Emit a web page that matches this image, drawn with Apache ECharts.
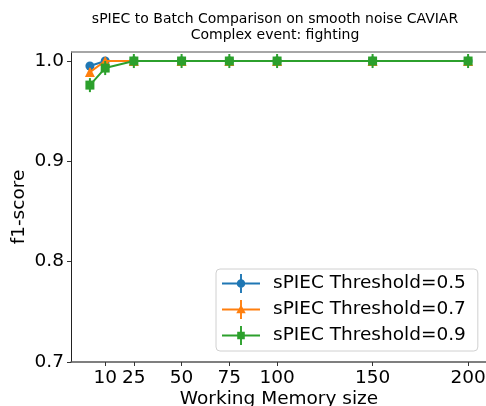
<!DOCTYPE html>
<html><head><meta charset="utf-8">
<script src="https://cdn.jsdelivr.net/npm/echarts@6/dist/echarts.min.js"></script>
<style>html,body{margin:0;padding:0;background:#fff;}#c{width:486px;height:406px;}</style>
</head><body><div id="c"></div>
<script>
const memorySizes = [2, 10, 25, 50, 75, 100, 150, 200];
const xTickValues = [10, 25, 50, 75, 100, 150, 200];
const yTickValues = [0.7, 0.8, 0.9, 1.0];
const f1Thr05 = [0.995, 1.0, 1.0, 1.0, 1.0, 1.0, 1.0, 1.0];
const f1Thr07 = [0.989, 1.0, 1.0, 1.0, 1.0, 1.0, 1.0, 1.0];
const f1Thr09 = [0.976, 0.993, 1.0, 1.0, 1.0, 1.0, 1.0, 1.0];
const err05 = [0.003, 0.002, 0.003, 0.003, 0.003, 0.003, 0.003, 0.003];
const err07 = [0.004, 0.002, 0.004, 0.004, 0.004, 0.004, 0.004, 0.004];
const err09 = [0.007, 0.007, 0.007, 0.007, 0.007, 0.007, 0.007, 0.007];
const seriesNames = ['sPIEC Threshold=0.5', 'sPIEC Threshold=0.7', 'sPIEC Threshold=0.9'];

const colors = ['#1f77b4', '#ff7f0e', '#2ca02c'];
const FONT = 'DejaVu Sans';
const FS = 18.5;
const bars = 'M0 9 L40 9 L40 11 L0 11 Z M19 0 L21 0 L21 20 L19 20 Z ';
const icons = [
  'path://' + bars + 'M15.5 10 A4.5 4.5 0 1 1 24.5 10 A4.5 4.5 0 1 1 15.5 10 Z',
  'path://' + bars + 'M20 5 L25 14 L15 14 Z',
  'path://' + bars + 'M16 6 L24 6 L24 14 L16 14 Z'
];
const symbols = ['circle', 'triangle', 'rect'];
const symSizes = [9, 10, 9];
const vals = [f1Thr05, f1Thr07, f1Thr09];
const errs = [err05, err07, err09];

const series = [];
for (let i = 0; i < 3; i++) {
  series.push({
    type: 'custom',
    name: 'err' + i,
    z: 2 + i * 2,
    silent: true,
    data: memorySizes.map((x, k) => [x, vals[i][k], errs[i][k]]),
    renderItem: function (params, api) {
      const x = api.value(0), y = api.value(1), e = api.value(2);
      const p1 = api.coord([x, y - e]);
      const p2 = api.coord([x, y + e]);
      return {
        type: 'line',
        shape: { x1: p1[0], y1: p1[1], x2: p2[0], y2: p2[1] },
        style: { stroke: colors[i], lineWidth: 2 }
      };
    }
  });
  series.push({
    type: 'line',
    name: seriesNames[i],
    z: 3 + i * 2,
    data: memorySizes.map((x, k) => [x, vals[i][k]]),
    symbol: symbols[i],
    symbolSize: symSizes[i],
    showAllSymbol: true,
    lineStyle: { color: colors[i], width: 2 },
    itemStyle: { color: colors[i] },
    emphasis: { disabled: true },
    animation: false
  });
}

const chart = echarts.init(document.getElementById('c'), null, { renderer: 'canvas' });
chart.setOption({
  animation: false,
  color: colors,
  title: [{
    text: 'sPIEC to Batch Comparison on smooth noise CAVIAR\nComplex event: fighting',
    left: 270, top: 6, textAlign: 'center',
    textStyle: { fontFamily: FONT, fontSize: 14, fontWeight: 'normal', color: '#000', lineHeight: 16 }
  }],
  grid: { left: 71, top: 52, width: 416, height: 310, containLabel: false, outerBoundsMode: 'none' },
  xAxis: {
    type: 'value', min: -7.9, max: 209.9,
    name: 'Working Memory size', nameLocation: 'middle', nameGap: 28, nameMoveOverlap: false,
    nameTextStyle: { fontFamily: FONT, fontSize: FS, color: '#000', verticalAlign: 'top' },
    axisLine: { show: true, lineStyle: { color: '#555', width: 1.5 } },
    axisTick: { show: true, length: 4, inside: false, customValues: xTickValues, lineStyle: { color: '#333' } },
    axisLabel: { customValues: xTickValues, fontFamily: FONT, fontSize: FS, color: '#000', margin: 7 },
    splitLine: { show: false }
  },
  yAxis: {
    type: 'value', min: 0.7, max: 1.009,
    name: 'f1-score', nameLocation: 'middle', nameGap: 42.5, nameRotate: 90, nameMoveOverlap: false,
    nameTextStyle: { fontFamily: FONT, fontSize: FS, color: '#000' },
    axisLine: { show: true, onZero: false, lineStyle: { color: '#222', width: 1 } },
    axisTick: { show: true, length: 4, customValues: yTickValues, lineStyle: { color: '#333' } },
    axisLabel: { customValues: yTickValues, fontFamily: FONT, fontSize: FS, color: '#000', margin: 7,
      formatter: v => v.toFixed(1) },
    splitLine: { show: false }
  },
  legend: {
    orient: 'vertical', left: 216, top: 269,
    data: seriesNames.map((n, i) => ({ name: n, icon: icons[i] })),
    itemWidth: 38, itemHeight: 19, itemGap: 7,
    padding: [5, 12, 6, 6],
    backgroundColor: '#fff', borderColor: '#d0d0d0', borderWidth: 1, borderRadius: 4,
    textStyle: { fontFamily: FONT, fontSize: FS, color: '#000', padding: [0, 0, 0, 8] },
    selectedMode: false
  },
  graphic: [{
    type: 'line', z: 1,
    shape: { x1: 71, y1: 52, x2: 487, y2: 52 },
    style: { stroke: '#888', lineWidth: 1.5 }
  }],
  series: series
});
</script></body></html>
